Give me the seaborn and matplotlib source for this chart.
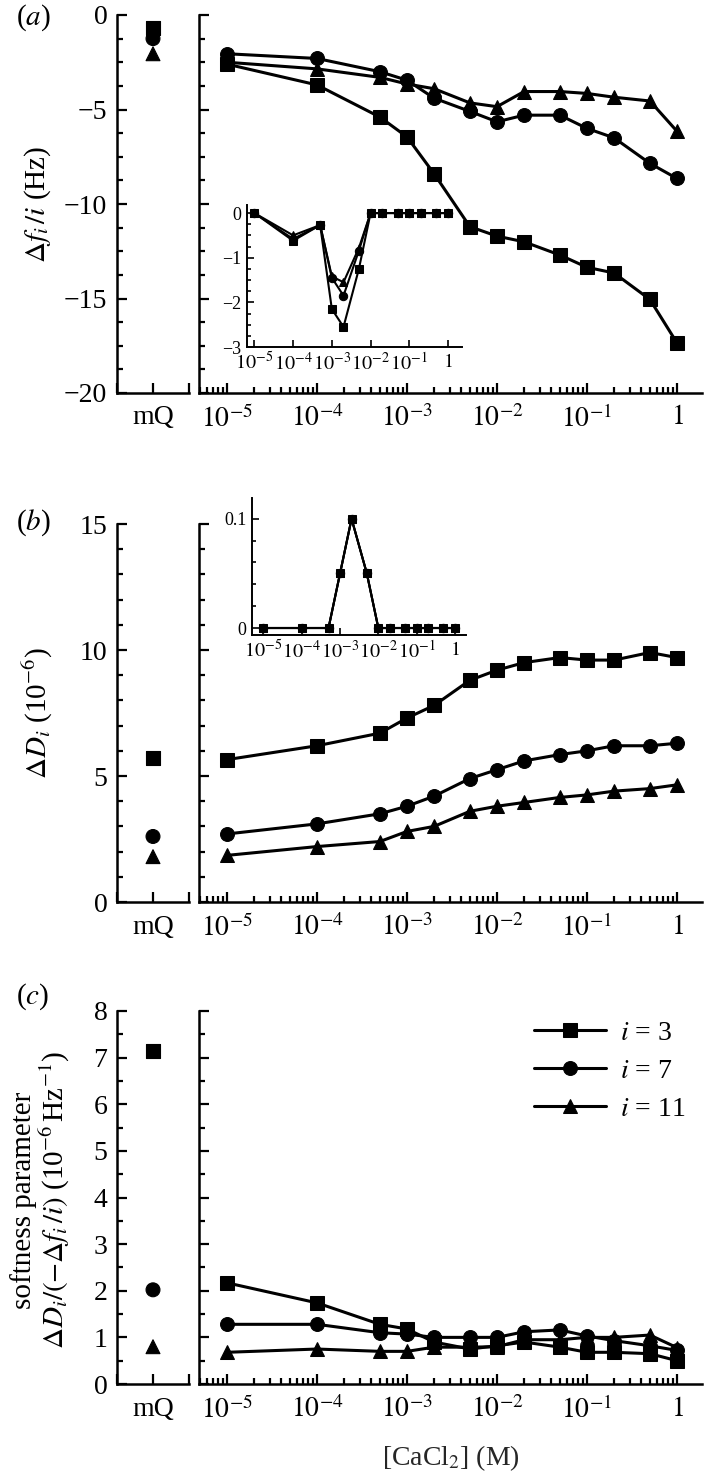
import numpy as np
import pandas as pd
import matplotlib
matplotlib.use("Agg")
import matplotlib.pyplot as plt
import seaborn as sns
from matplotlib.ticker import MultipleLocator, FixedLocator, NullFormatter, LogLocator

# ---------------- data ----------------
conc = [1e-5, 1e-4, 5e-4, 1e-3, 2e-3, 5e-3, 1e-2, 2e-2, 5e-2, 0.1, 0.2, 0.5, 1.0]
series = ["$i$ = 3", "$i$ = 7", "$i$ = 11"]
xtick_vals = [1e-5, 1e-4, 1e-3, 1e-2, 1e-1, 1.0]
xtick_labels = ["$10^{-5}$", "$10^{-4}$", "$10^{-3}$", "$10^{-2}$", "$10^{-1}$", "$1$"]

# panel (a): Δf_i/i (Hz)
a_i3 = [-2.6, -3.7, -5.4, -6.45, -8.4, -11.2, -11.7, -12.0, -12.7, -13.35, -13.65, -15.05, -17.35]
a_i7 = [-2.05, -2.3, -3.0, -3.45, -4.4, -5.1, -5.65, -5.3, -5.3, -6.0, -6.5, -7.85, -8.65]
a_i11 = [-2.5, -2.85, -3.3, -3.65, -3.9, -4.65, -4.85, -4.05, -4.05, -4.15, -4.35, -4.55, -6.15]
a_mq = [-0.7, -1.25, -2.05]
# inset (a)
ia_i3 = [0, -0.62, -0.27, -2.15, -2.55, -1.25, 0, 0, 0, 0, 0, 0, 0]
ia_i7 = [0, -0.58, -0.27, -1.45, -1.85, -0.84, 0, 0, 0, 0, 0, 0, 0]
ia_i11 = [0, -0.5, -0.27, -1.42, -1.55, -0.78, 0, 0, 0, 0, 0, 0, 0]

# panel (b): ΔD_i (1e-6)
b_i3 = [5.65, 6.2, 6.7, 7.3, 7.8, 8.8, 9.2, 9.5, 9.7, 9.6, 9.6, 9.9, 9.7]
b_i7 = [2.7, 3.1, 3.5, 3.8, 4.2, 4.9, 5.25, 5.6, 5.85, 6.0, 6.2, 6.2, 6.3]
b_i11 = [1.85, 2.2, 2.4, 2.8, 3.0, 3.6, 3.8, 3.95, 4.15, 4.25, 4.4, 4.5, 4.65]
b_mq = [5.7, 2.6, 1.8]
# inset (b)
ib_i3 = [0, 0, 0, 0.05, 0.1, 0.05, 0, 0, 0, 0, 0, 0, 0]
ib_i7 = [0, 0, 0, 0.05, 0.1, 0.05, 0, 0, 0, 0, 0, 0, 0]
ib_i11 = [0, 0, 0, 0.05, 0.1, 0.05, 0, 0, 0, 0, 0, 0, 0]

# panel (c): softness parameter
c_i3 = [2.17, 1.74, 1.28, 1.18, 0.9, 0.75, 0.82, 0.9, 0.79, 0.68, 0.68, 0.65, 0.5]
c_i7 = [1.28, 1.28, 1.1, 1.07, 1.0, 1.0, 1.0, 1.12, 1.16, 1.03, 0.93, 0.82, 0.72]
c_i11 = [0.68, 0.75, 0.7, 0.7, 0.79, 0.79, 0.8, 0.95, 0.95, 1.0, 1.0, 1.05, 0.78]
c_mq = [7.15, 2.02, 0.8]

# ---------------- style ----------------
sns.set_theme(style="ticks")
plt.rcParams["font.family"] = ["Liberation Serif", "DejaVu Serif"]
plt.rcParams["mathtext.fontset"] = "stix"
plt.rcParams["axes.linewidth"] = 1.8
plt.rcParams["axes.edgecolor"] = "black"
plt.rcParams["text.color"] = "black"
plt.rcParams["xtick.color"] = "black"
plt.rcParams["ytick.color"] = "black"

W, H = 706, 1482
fig = plt.figure(figsize=(W / 100, H / 100), dpi=100)

MARKERS = ["s", "o", "^"]


def long_df(vals):
    rows = []
    for s, v in zip(series, vals):
        for c, y in zip(conc, v):
            rows.append({"conc": c, "val": y, "series": s})
    return pd.DataFrame(rows)


def mq_df(vals):
    return pd.DataFrame({"pos": [0.0] * len(vals), "val": vals, "series": series})


def px_axes(x0, x1, y0, y1):
    return fig.add_axes([x0 / W, 1 - y1 / H, (x1 - x0) / W, (y1 - y0) / H])


def style_ticks(ax, size=20, major=7, minor=4.5, width=1.6):
    ax.tick_params(which="both", direction="in", width=width, colors="black",
                   labelsize=size, pad=7)
    ax.tick_params(which="major", length=major)
    ax.tick_params(which="minor", length=minor)
    for s in ("top", "right"):
        ax.spines[s].set_visible(False)
    ax.set_xlabel("")
    ax.set_ylabel("")
    ax.set_facecolor("none")


def set_log_x(ax, lo, hi, labels=True):
    ax.set_xscale("log")
    ax.set_xlim(10 ** lo, 10 ** hi)
    ax.xaxis.set_major_locator(FixedLocator(xtick_vals))
    ax.set_xticklabels(xtick_labels if labels else [""] * 6)
    ax.xaxis.set_minor_locator(LogLocator(base=10, subs=np.arange(2, 10)))
    ax.xaxis.set_minor_formatter(NullFormatter())


def panel(ytop, ybot, vals, mq, ylim, major, minor, ms=10, legend=False):
    axl = px_axes(117, 189, ytop, ybot)
    axm = px_axes(199, 702, ytop, ybot)
    # mQ points
    sns.scatterplot(data=mq_df(mq), x="pos", y="val", style="series", style_order=series,
                    markers=MARKERS, color="black", edgecolor="black", s=ms * ms,
                    legend=False, ax=axl)
    axl.set_xlim(-1, 1)
    axl.xaxis.set_major_locator(FixedLocator([-1, 0, 1]))
    axl.set_xticklabels(["", "mQ", ""])
    axl.set_ylim(*ylim)
    axl.yaxis.set_major_locator(MultipleLocator(major))
    axl.yaxis.set_minor_locator(MultipleLocator(minor))
    style_ticks(axl)
    axl.tick_params(axis="x", pad=9)
    # main curves
    sns.lineplot(data=long_df(vals), x="conc", y="val", style="series", style_order=series,
                 markers=MARKERS, dashes=False, color="black", markersize=ms,
                 markeredgecolor="black", linewidth=2.2, legend=legend, ax=axm)
    set_log_x(axm, -5.311, 0.278)
    axm.set_ylim(*ylim)
    axm.yaxis.set_major_locator(MultipleLocator(major))
    axm.yaxis.set_minor_locator(MultipleLocator(minor))
    style_ticks(axm)
    axm.tick_params(axis="y", labelleft=False)
    axm.tick_params(axis="x", pad=9)
    return axl, axm


def inset(x0, x1, y0, y1, vals, xlo, xhi, ylim, yticks, ylabs, yminor):
    ax = px_axes(x0, x1, y0, y1)
    sns.lineplot(data=long_df(vals), x="conc", y="val", style="series", style_order=series,
                 markers=MARKERS, dashes=False, color="black", markersize=6,
                 markeredgecolor="black", linewidth=1.5, legend=False, ax=ax)
    set_log_x(ax, xlo, xhi)
    ax.set_ylim(*ylim)
    ax.yaxis.set_major_locator(FixedLocator(yticks))
    ax.set_yticklabels(ylabs)
    ax.yaxis.set_minor_locator(MultipleLocator(yminor))
    style_ticks(ax, size=13, major=5, minor=3, width=1.2)
    ax.tick_params(axis="x", labelsize=14.5)
    for s in ("left", "bottom"):
        ax.spines[s].set_linewidth(1.4)
    ax.tick_params(pad=4)
    return ax


# panel (a)
panel(15, 393, [a_i3, a_i7, a_i11], a_mq, (-20, 0), 5, 1.25)
inset(247, 462, 205, 347, [ia_i3, ia_i7, ia_i11], -5.19, 0.36, (-3, 0.18),
      [-3, -2, -1, 0], ["\u22123", "\u22122", "\u22121", "0"], 0.25)

# panel (b)
panel(524, 902, [b_i3, b_i7, b_i11], b_mq, (0, 15), 5, 1)
inset(252, 466, 498, 635, [ib_i3, ib_i7, ib_i11], -5.3, 0.29, (-0.0064, 0.119),
      [0, 0.1], ["0", "0.1"], 0.02)

# panel (c)
axl_c, axm_c = panel(1011, 1384, [c_i3, c_i7, c_i11], c_mq, (0, 8), 1, 0.5, legend=True)
handles, labels = axm_c.get_legend_handles_labels()
axm_c.legend(handles, labels, loc="upper right", bbox_to_anchor=(1.0, 1.02),
             frameon=False, fontsize=20, handlelength=2.6, handletextpad=0.5,
             labelspacing=0.45, borderaxespad=0.2)
axm_c.set_xlabel("[CaCl$_2$] (M)", fontsize=20, labelpad=14)

# y labels and panel letters
fig.text(38 / W, 1 - 204 / H, r"$\Delta f_i\,/i$ (Hz)", rotation=90, ha="center",
         va="center", fontsize=21)
fig.text(38 / W, 1 - 713 / H, r"$\Delta D_i$ (10$^{-6}$)", rotation=90, ha="center",
         va="center", fontsize=21)
fig.text(24 / W, 1 - 1200 / H, "softness parameter", rotation=90, ha="center",
         va="center", fontsize=21)
fig.text(55 / W, 1 - 1200 / H, r"$\Delta D_i/(-\Delta f_i\,/i)$ (10$^{-6}\,$Hz$^{-1}$)",
         rotation=90, ha="center", va="center", fontsize=21)
for lab, y in (("a", 18), ("b", 523), ("c", 997)):
    fig.text(33 / W, 1 - y / H, "(" + "$" + lab + "$" + ")", ha="center", va="center",
             fontsize=21)

fig.savefig("out.png", dpi=100)
